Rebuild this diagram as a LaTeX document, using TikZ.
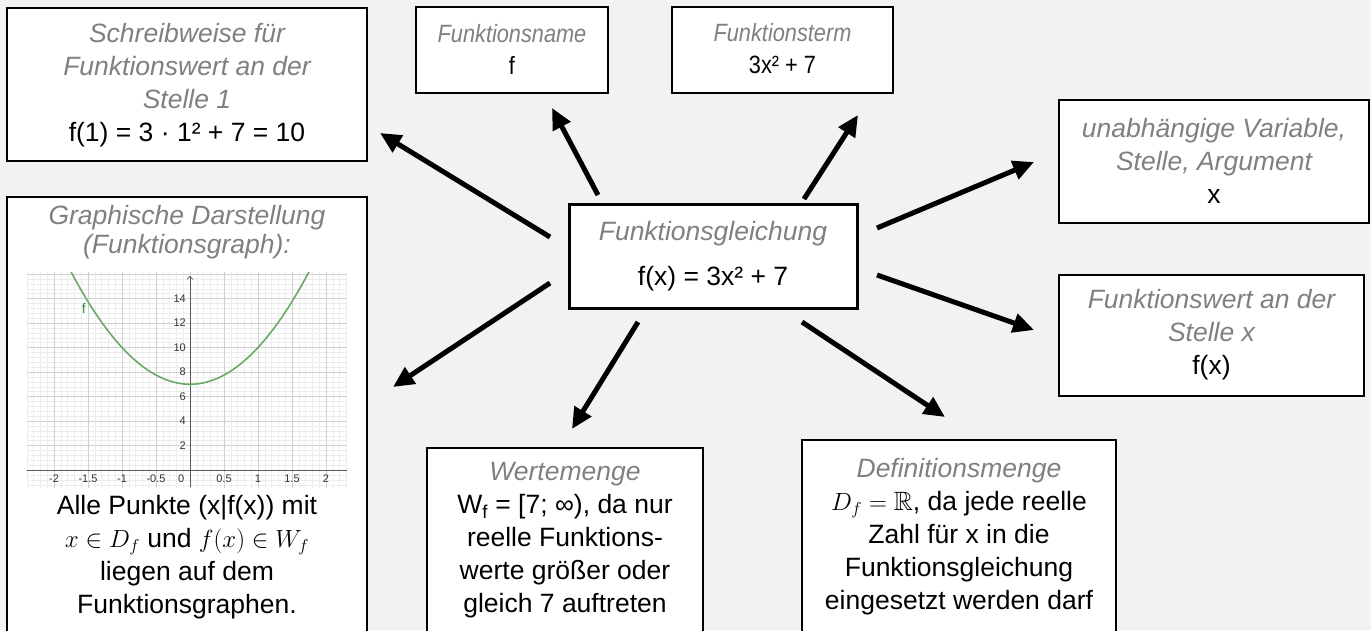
\documentclass[tikz,border=0pt]{standalone}
\usepackage{fontspec}
\setmainfont{Liberation Sans}
\usepackage{amssymb}
\usepackage{graphicx}
\usetikzlibrary{arrows.meta}
\definecolor{bg}{HTML}{F2F2F2}
\definecolor{ttlc}{HTML}{808080}
\definecolor{curvec}{HTML}{6AAA64}
\definecolor{flabel}{HTML}{2E8B3A}
\definecolor{ticklab}{HTML}{333333}
\tikzset{
  box/.style={draw=black, line width=2pt, fill=white, inner sep=0pt, outer sep=0pt},
  mainbox/.style={box, line width=3pt},
  txt/.style={align=center, inner sep=0pt, font=\fontsize{26.5}{33}\selectfont},
  smalltxt/.style={txt, font=\fontsize{25}{32}\selectfont},
  conn/.style={line width=5pt, -{Triangle[length=21pt,width=19pt]}},
  ticklbl/.style={inner sep=0pt, text=ticklab, font=\fontsize{11}{12}\selectfont},
}
\newcommand{\ttl}[1]{{\color{ttlc}\itshape #1}}
\newcommand{\narrow}[1]{\scalebox{0.87}[1]{#1}}
\begin{document}
\begin{tikzpicture}[x=1pt,y=-1pt]
\useasboundingbox (0,0) rectangle (1371,630);
\fill[bg] (0,0) rectangle (1371,630);
\begin{scope}
\clip (0,0) rectangle (1371,630);
% boxes
\node[box, minimum width=360pt, minimum height=153pt] (b1) at (187,84.5) {};
\node[box, minimum width=360pt, minimum height=443pt] (gb) at (187,418.5) {};
\node[box, minimum width=192pt, minimum height=86pt] (bn) at (512,50) {};
\node[box, minimum width=221pt, minimum height=86pt] (bt) at (782.5,50) {};
\node[box, minimum width=310pt, minimum height=123pt] (bu) at (1214,161.5) {};
\node[box, minimum width=305pt, minimum height=121pt] (bw) at (1211.5,335.5) {};
\node[mainbox, minimum width=288pt, minimum height=104pt] (bc) at (713,256) {};
\node[box, minimum width=276pt, minimum height=192pt] (bwm) at (565,544) {};
\node[box, minimum width=314pt, minimum height=200pt] (bdm) at (959,540) {};
\end{scope}

% texts
\node[txt] (t1) at (187,85) {\ttl{Schreibweise für}\\\ttl{Funktionswert an der}\\\ttl{Stelle 1}\\f(1) = 3 · 1² + 7 = 10};
\node[smalltxt] (tn) at (512,49) {\narrow{\ttl{Funktionsname}}\\\narrow{f}};
\node[smalltxt] (tt) at (782.5,49) {\narrow{\ttl{Funktionsterm}}\\\narrow{3x² + 7}};
\node[txt] (tu) at (1214,161) {\ttl{unabhängige Variable,}\\\ttl{Stelle, Argument}\\x};
\node[txt] (tw) at (1211.5,335) {\ttl{Funktionswert an der}\\\ttl{Stelle x}\\f(x)};
\node[txt] (tc) at (713,256) {\ttl{Funktionsgleichung}\\[12pt]f(x) = 3x² + 7};
\node[txt, font=\fontsize{26.5}{29}\selectfont] (tg) at (187,232) {\ttl{Graphische Darstellung}\\\ttl{(Funktionsgraph):}};
\node[txt] (tg2) at (187,557) {Alle Punkte (x|f(x)) mit\\$x\in D_f$ und $f(x)\in W_f$\\liegen auf dem\\Funktionsgraphen.};
\node[txt] (twm) at (565,540) {\ttl{Wertemenge}\\W\textsubscript{f} = [7; ∞), da nur\\reelle Funktions-\\werte größer oder\\gleich 7 auftreten};
\node[txt] (tdm) at (959,537) {\ttl{Definitionsmenge}\\$D_f=\mathbb{R}$, da jede reelle\\Zahl für x in die\\Funktionsgleichung\\eingesetzt werden darf};

% graph
\begin{scope}[shift={(190,470)}, x=68pt, y=12.25pt]
\fill[white] (-2.397,-1.39) rectangle (2.309,16.16);
\begin{scope}
\clip (-2.397,-1.39) rectangle (2.309,16.16);
\draw[black!7, line width=0.4pt, xstep=0.1, ystep=0.4] (-2.5,-1.6) grid (2.4,16.4);
\draw[black!18, line width=0.7pt, xstep=0.5, ystep=2] (-2.5,-1.6) grid (2.4,16.4);
\draw[black!65, line width=0.7pt] (-2.397,0) -- (2.309,0);
\draw[black!65, line width=0.7pt, -{Straight Barb[length=3pt,width=6pt]}] (0,-1.39) -- (0,15.85);
\draw[curvec, line width=1.6pt, domain=-1.78:1.78, samples=90, smooth] plot (\x,{3*\x*\x+7});
\end{scope}
\foreach \v/\l [count=\i] in {-2/-2,-1.5/-1.5,-1/-1,-0.5/-0.5,0.5/0.5,1/1,1.5/1.5,2/2}
  \node[ticklbl] (xl\i) at (\v,0) [yshift=-9pt] {\l};
\node[ticklbl] (xl0) at (-0.13,0) [yshift=-9pt] {0};
\foreach \v [count=\i] in {2,4,6,8,10,12,14}
  \node[ticklbl, anchor=east] (yl\i) at (0,\v) [xshift=-4pt] {\v};
\node[inner sep=0pt, text=flabel, font=\fontsize{14}{14}\selectfont] (fl) at (-1.56,13.2) {f};
\end{scope}

% arrow coordinates
\coordinate (s1) at (550,237); \coordinate (e1) at (380,133);
\coordinate (s2) at (598,195); \coordinate (e2) at (552,108);
\coordinate (s3) at (804,199); \coordinate (e3) at (858,115);
\coordinate (s4) at (877,228); \coordinate (e4) at (1034,162);
\coordinate (s5) at (877,275); \coordinate (e5) at (1034,330);
\coordinate (s6) at (550,283); \coordinate (e6) at (393,387);
\coordinate (s7) at (638,322); \coordinate (e7) at (572,429);
\coordinate (s8) at (802,322); \coordinate (e8) at (945,417);
\foreach \k in {1,...,8} \draw[conn] (s\k) -- (e\k);
\end{tikzpicture}
\end{document}
